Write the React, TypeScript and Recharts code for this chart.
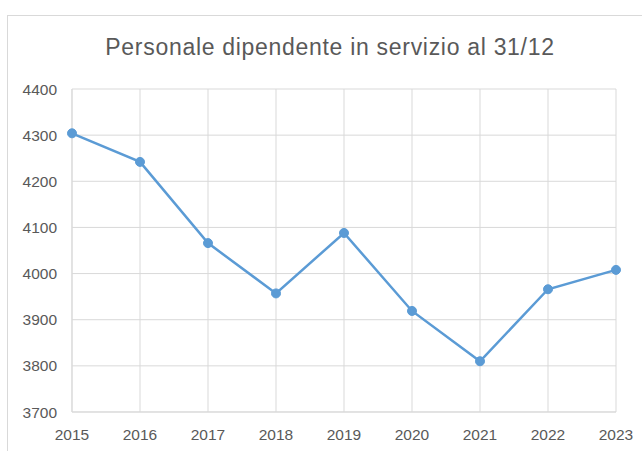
import React from "react";
import { LineChart, Line, XAxis, YAxis, CartesianGrid } from "recharts";

const years = ["2015", "2016", "2017", "2018", "2019", "2020", "2021", "2022", "2023"];
const staff = [4304, 4242, 4066, 3957, 4088, 3919, 3810, 3966, 4008];
const yTicks = [3700, 3800, 3900, 4000, 4100, 4200, 4300, 4400];
const title = "Personale dipendente in servizio al 31/12";

const data = years.map((y, i) => ({ year: y, value: staff[i] }));

const FONT = "'Liberation Sans', Arial, sans-serif";

export default function App() {
  return (
    <div style={{ position: "absolute", left: 0, top: 0, width: 642, height: 451, background: "#fff", overflow: "hidden" }}>
      <div
        style={{
          position: "absolute",
          left: 7,
          top: 15,
          width: 700,
          height: 500,
          borderTop: "1px solid #d9d9d9",
          borderLeft: "1px solid #d9d9d9",
        }}
      />
      <div
        style={{
          position: "absolute",
          left: 0,
          width: 660,
          top: 34,
          textAlign: "center",
          fontFamily: FONT,
          fontSize: 23,
          letterSpacing: 0.7,
          lineHeight: "26px",
          color: "#595959",
          whiteSpace: "nowrap",
        }}
      >
        {title}
      </div>
      <div style={{ position: "absolute", left: 0, top: 0 }}>
        <LineChart width={642} height={451} data={data} margin={{ top: 89, right: 26, bottom: 0, left: 0 }}>
          <CartesianGrid stroke="#d9d9d9" strokeWidth={1} />
          <XAxis
            dataKey="year"
            height={39}
            tickLine={false}
            tickSize={0}
            tickMargin={17}
            axisLine={{ stroke: "#d9d9d9" }}
            tick={{ fill: "#595959", fontSize: 15.5, fontFamily: FONT }}
            interval={0}
          />
          <YAxis
            width={72}
            domain={[3700, 4400]}
            ticks={yTicks}
            tickLine={false}
            tickSize={0}
            tickMargin={15}
            axisLine={{ stroke: "#d9d9d9" }}
            tick={{ fill: "#595959", fontSize: 15.5, fontFamily: FONT }}
            interval={0}
          />
          <Line
            type="linear"
            dataKey="value"
            stroke="#5B9BD5"
            strokeWidth={2.5}
            dot={{ r: 4.5, fill: "#5B9BD5", stroke: "#5B9BD5", strokeWidth: 1 }}
            isAnimationActive={false}
          />
        </LineChart>
      </div>
    </div>
  );
}
